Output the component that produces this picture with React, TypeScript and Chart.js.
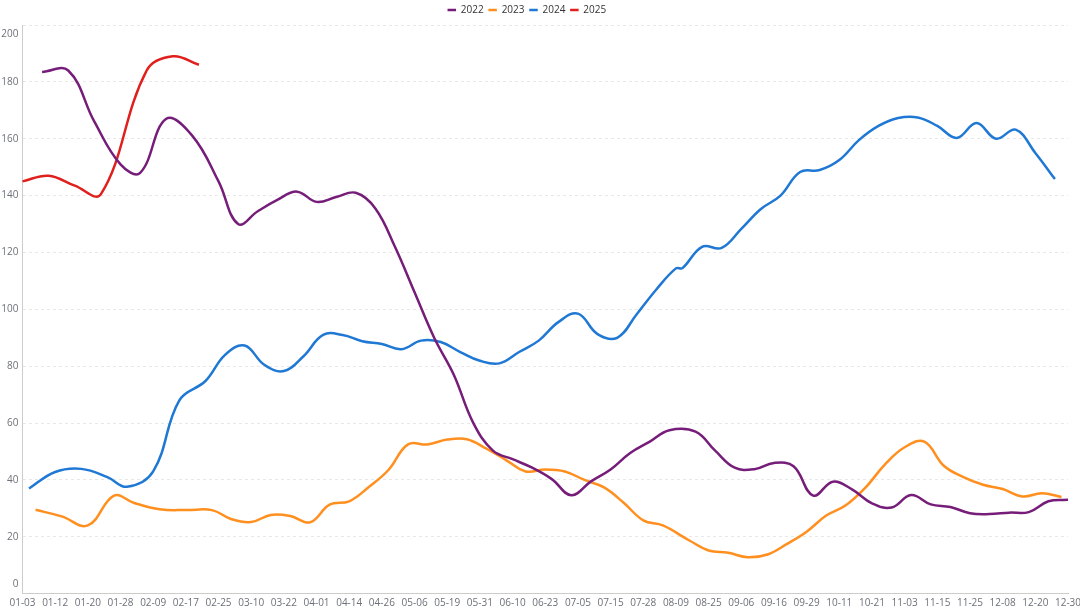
import React, { useEffect, useRef } from 'react';
import { Chart, registerables } from 'chart.js';

Chart.register(...registerables);

// Weekly (Friday) observation dates per year, as month-day
const dates2022 = [
  '01-07', '01-14', '01-21', '01-28', '02-04', '02-11', '02-18', '02-25', '03-04', '03-11',
  '03-18', '03-25', '04-01', '04-08', '04-15', '04-22', '04-29', '05-06', '05-13', '05-20',
  '05-27', '06-03', '06-10', '06-17', '06-24', '07-01', '07-08', '07-15', '07-22', '07-29',
  '08-05', '08-19', '08-26', '09-02', '09-09', '09-16', '09-23', '09-30', '10-07', '10-14',
  '10-21', '10-28', '11-04', '11-11', '11-18', '11-25', '12-02', '12-09', '12-16', '12-23',
  '12-30',
];
const values2022 = [
  183.5, 184, 166, 151, 148, 167, 161, 145, 130, 134.5,
  138.5, 141.4, 137.8, 139.5, 141, 135.5, 122, 106, 90, 77,
  60, 50.3, 47.3, 44.3, 40.3, 34.6, 39.5, 43.7, 49.5, 53.5,
  57.5, 57, 50.3, 44.3, 43.8, 46, 44.8, 34.5, 39.4, 36.6,
  31.8, 30.3, 34.7, 31.4, 30.5, 28.3, 28, 28.5, 28.7, 32.5,
  33,
];

const dates2023 = [
  '01-06', '01-13', '01-20', '01-27', '02-03', '02-10', '02-17', '02-24', '03-03', '03-10',
  '03-17', '03-24', '03-31', '04-07', '04-14', '04-21', '04-28', '05-05', '05-12', '05-19',
  '05-26', '06-02', '06-09', '06-16', '06-23', '06-30', '07-07', '07-14', '07-21', '07-28',
  '08-04', '08-18', '08-25', '09-01', '09-08', '09-15', '09-22', '09-29', '10-06', '10-13',
  '10-20', '10-27', '11-03', '11-10', '11-17', '11-24', '12-01', '12-08', '12-15', '12-22',
  '12-29',
];
const values2023 = [
  29.5, 27.2, 24, 34.5, 32, 29.7, 29.4, 29.4, 26.2, 25.2,
  27.7, 27.3, 25.1, 31.3, 32.5, 37.5, 43.5, 52.5, 52.5, 54.2,
  54.3, 51, 47, 43, 43.7, 43, 40, 37.4, 32, 25.8,
  24, 18.8, 15.2, 14.4, 12.8, 13.8, 17.5, 21.8, 27.5, 31.1,
  37.3, 45.5, 51.5, 53.5, 45, 41, 38.3, 36.8, 34.2, 35.3,
  34,
];

const dates2024 = [
  '01-05', '01-12', '01-19', '01-26', '02-02', '02-09', '02-16', '02-23', '03-01', '03-08',
  '03-15', '03-22', '03-29', '04-05', '04-12', '04-19', '04-26', '05-03', '05-10', '05-17',
  '05-24', '05-31', '06-07', '06-14', '06-21', '06-28', '07-05', '07-12', '07-19', '07-26',
  '08-02', '08-09', '08-16', '08-23', '08-30', '09-06', '09-13', '09-20', '09-27', '10-04',
  '10-11', '10-18', '10-25', '11-01', '11-08', '11-15', '11-22', '11-29', '12-06', '12-13',
  '12-20', '12-27',
];
const values2024 = [
  37, 42.8, 43.9, 41, 37.6, 43, 68, 74.8, 84, 87.3,
  80.5, 78.3, 83.5, 91, 91, 88.8, 87.8, 86, 89, 88.5,
  85, 81.9, 81, 85, 89, 95.5, 98.5, 91.3, 90, 98.3,
  107, 114.4, 114.5, 122, 121.6, 128.3, 135.3, 140, 148.3, 149,
  152.5, 159.5, 164.5, 167.3, 167.5, 164.5, 160.3, 165.5, 160, 163.2,
  155, 145.8,
];

const dates2025 = ['01-03', '01-10', '01-17', '01-24', '02-07', '02-14', '02-21'];
const values2025 = [145, 147, 143.5, 140.5, 184, 189, 186];

// Tick labels visible on the x axis
const tickLabels = [
  '01-03', '01-12', '01-20', '01-28', '02-09', '02-17', '02-25', '03-10', '03-22', '04-01',
  '04-14', '04-26', '05-06', '05-19', '05-31', '06-10', '06-23', '07-05', '07-15', '07-28',
  '08-09', '08-25', '09-06', '09-16', '09-29', '10-11', '10-21', '11-03', '11-15', '11-25',
  '12-08', '12-20', '12-30',
];

const seriesNames = ['2022', '2023', '2024', '2025'];
const seriesColors = ['#761d79', '#ff8f1f', '#1f78d3', '#e0201d'];

const Y_MIN = 0;
const Y_MAX = 200;
const Y_STEP = 20;

const AXIS_TEXT = '#6e7079';
const FONT_FAMILY = "'Open Sans', 'Noto Sans', sans-serif";

// Nudges the centred legend slightly left, as in the reference
const legendShift = {
  id: 'legendShift',
  afterLayout(chart: any) {
    if (chart.legend) {
      chart.legend.right -= 26;
    }
  },
};

export default function App() {
  const canvasRef = useRef<HTMLCanvasElement | null>(null);

  useEffect(() => {
    document.body.style.margin = '0';
    const canvas = canvasRef.current;
    if (!canvas) return;

    const allDates = [dates2022, dates2023, dates2024, dates2025];
    const allValues = [values2022, values2023, values2024, values2025];
    const categories = Array.from(new Set(allDates.flat())).sort();

    const chart = new Chart(canvas, {
      type: 'line',
      data: {
        labels: categories,
        datasets: seriesNames.map((name, s) => ({
          label: name,
          data: allDates[s].map((d, i) => ({ x: d, y: allValues[s][i] })),
          borderColor: seriesColors[s],
          backgroundColor: seriesColors[s],
          borderWidth: 2.5,
          pointRadius: 0,
          pointHoverRadius: 0,
          tension: 0.4,
          fill: false,
        })),
      },
      options: {
        animation: false,
        responsive: true,
        maintainAspectRatio: false,
        layout: { padding: 0 },
        plugins: {
          legend: {
            position: 'top',
            align: 'center',
            labels: {
              usePointStyle: true,
              pointStyle: 'line',
              boxWidth: 8,
              boxHeight: 6,
              padding: 5,
              color: '#333333',
              font: { family: FONT_FAMILY, size: 10 },
            },
          },
          tooltip: { enabled: false },
        },
        scales: {
          x: {
            type: 'category',
            grid: { display: false, drawTicks: false },
            border: { display: true, color: '#cccccc', width: 1 },
            ticks: {
              autoSkip: false,
              maxRotation: 0,
              minRotation: 0,
              padding: 3,
              color: AXIS_TEXT,
              font: { family: FONT_FAMILY, size: 10 },
              callback: function (this: any, value: any) {
                const lab = this.getLabelForValue(value);
                return tickLabels.includes(lab) ? lab : '';
              },
            },
            afterFit: (scale: any) => {
              scale.height = 16.3;
              scale.paddingLeft = 0;
              scale.paddingRight = 12;
            },
          },
          y: {
            min: Y_MIN,
            max: Y_MAX,
            grid: { color: '#e8e8e8', lineWidth: 1, drawTicks: false },
            border: { display: true, color: '#cccccc', width: 1, dash: [3, 3] },
            ticks: {
              stepSize: Y_STEP,
              autoSkip: false,
              padding: 4,
              color: AXIS_TEXT,
              font: { family: FONT_FAMILY, size: 10, lineHeight: 1.9 },
              callback: (value: any) => {
                const v = Number(value);
                if (v === Y_MAX) return ['', String(v)];
                if (v === Y_MIN) return [String(v), ''];
                return String(v);
              },
            },
            afterFit: (scale: any) => {
              scale.width = 22.5;
              scale.paddingTop = 0;
              scale.paddingBottom = 0;
            },
          },
        },
      },
      plugins: [legendShift],
    });

    return () => chart.destroy();
  }, []);

  return (
    <div style={{ width: 1080, height: 610, position: 'relative' }}>
      <canvas ref={canvasRef} />
    </div>
  );
}
